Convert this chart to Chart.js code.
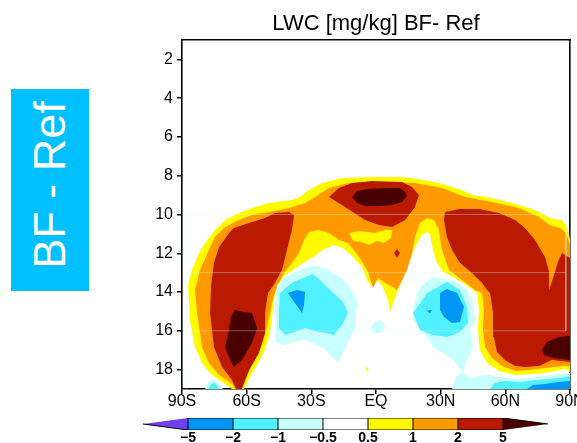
<!DOCTYPE html>
<html>
<head>
<meta charset="utf-8">
<script src="https://cdn.jsdelivr.net/npm/chart.js@4.4.1/dist/chart.umd.min.js"></script>
<style>
html, body { margin: 0; padding: 0; background: #fff; width: 577px; height: 443px; overflow: hidden; }
#tag { position: absolute; left: 11px; top: 89px; width: 78px; height: 202px; background: #00c0ff;
       display: flex; align-items: center; justify-content: center; }
#tag span { color: #fff; font: 45px 'Liberation Sans', Arial, sans-serif; white-space: nowrap;
            transform: rotate(-90deg) translateX(5px); }
#main { position: absolute; left: 0; top: 0; }
#bar { position: absolute; left: 0; top: 405px; }
</style>
</head>
<body>
<div id="tag"><span>BF - Ref</span></div>
<canvas id="main" width="577" height="415"></canvas>
<canvas id="bar" width="577" height="38"></canvas>
<script>
// axes
const latTicks = [-90, -60, -30, 0, 30, 60, 90];
const latLabels = ['90S', '60S', '30S', 'EQ', '30N', '60N', '90N'];
const levTicks = [2, 4, 6, 8, 10, 12, 14, 16, 18];

// colour bar: 9 classes, 8 edges
const cbLabels = ['\u22125', '\u22122', '\u22121', '\u22120.5', '0.5', '1', '2', '5'];
const cbColors = ['#7040f0', '#0096f5', '#50f0ff', '#c8ffff', '#ffffff', '#fffa00', '#ff9900', '#b91a00', '#4b0000'];

// contour outlines, [lat, level]
const ge05Arch = [[-66.8,19.0],[-68.2,18.89],[-72.8,18.53],[-77.0,18.17],[-80.7,17.66],[-84.0,16.83],[-86.3,15.44],
  [-87.2,13.63],[-85.4,12.86],[-82.1,11.98],[-79.3,11.47],[-74.7,10.80],[-70.0,10.28],[-63.6,9.92],[-57.5,9.66],
  [-49.6,9.41],[-39.0,9.25],[-35.3,9.10],[-31.1,8.74],[-25.1,8.37],[-15.8,8.12],[-3.2,8.07],[11.1,8.07],[16.7,8.12],
  [29.2,8.37],[39.9,8.74],[44.5,8.99],[53.8,9.15],[63.1,9.41],[71.0,9.66],[77.0,9.92],[80.3,10.18],[86.3,10.28],
  [89.1,10.70],[90,11.31],[90,18.12],[87.7,17.97],[78.4,18.17],[72.4,18.22],[64.5,18.28],[57.1,18.07],[51.5,17.66],
  [48.2,16.99],[47.3,15.96],[47.8,14.92],[46.9,14.05],[45.0,13.89],[40.4,13.53],[35.7,13.22],[31.1,12.96],[28.3,12.50],
  [26.4,11.83],[25.1,11.06],[23.7,10.90],[21.3,11.06],[18.1,11.68],[15.8,12.35],[12.1,13.38],[9.7,14.05],[7.9,14.56],
  [6.5,15.03],[5.6,14.41],[3.2,13.74],[0.5,13.38],[-1.9,13.74],[-4.2,13.38],[-6.5,12.71],[-10.7,12.19],[-15.3,11.73],
  [-19.9,11.57],[-24.6,11.83],[-29.2,12.19],[-33.9,12.50],[-38.5,12.86],[-43.1,13.22],[-45.9,13.74],[-47.3,14.41],
  [-48.2,15.18],[-49.2,16.11],[-51.5,16.99],[-54.7,17.66],[-57.5,18.17],[-59.8,18.69],[-61.2,19.0]];
const ge1Band = [[-65.4,19.0],[-66.8,18.74],[-72.8,18.28],[-77.5,17.66],[-80.7,16.83],[-83.0,15.08],[-84.0,13.89],
  [-81.6,12.86],[-77.5,11.83],[-74.7,11.16],[-70.0,10.64],[-63.6,10.28],[-57.5,10.02],[-49.6,9.87],[-40.4,9.66],
  [-32.9,9.41],[-28.3,9.10],[-21.8,8.63],[-12.5,8.37],[2.8,8.32],[18.1,8.37],[30.6,8.63],[41.3,9.10],[53.8,9.35],
  [66.3,9.66],[75.6,10.13],[80.3,10.54],[85.4,10.70],[88.1,10.95],[90,11.57],[90,17.81],[87.7,17.81],[78.4,17.92],
  [71.0,18.02],[64.5,18.07],[58.5,17.81],[53.8,17.40],[50.6,16.83],[49.6,15.96],[50.1,14.92],[49.2,14.05],[45.9,13.89],
  [39.9,13.38],[33.9,12.86],[30.6,11.83],[29.2,10.80],[26.9,10.28],[23.7,10.18],[20.4,10.44],[18.1,11.16],[16.7,11.98],
  [14.4,12.86],[12.1,13.38],[9.7,13.89],[7.9,13.74],[4.2,13.53],[0.9,13.27],[-1.4,13.79],[-3.7,12.96],[-7.4,12.24],
  [-11.1,11.73],[-13.0,11.47],[-17.2,11.31],[-21.8,10.95],[-26.4,10.80],[-31.1,10.90],[-33.4,11.31],[-35.7,11.98],
  [-39.0,12.50],[-42.7,13.02],[-45.0,13.53],[-47.3,14.15],[-49.2,15.08],[-51.0,15.96],[-52.9,16.73],[-56.1,17.50],
  [-59.4,18.17],[-62.6,19.0]];
const ge05Under = [[-12.5,10.95],[-7.4,10.85],[-0.5,10.95],[4.2,10.80],[7.4,10.80],[7.0,11.21],[3.7,11.47],
  [0.5,11.37],[-3.2,11.57],[-6.9,11.42],[-10.7,11.37]];
const ge05Dot = [[-4.2,17.86],[-3.2,17.97],[-4.2,18.07],[-5.1,17.97]];
const ge2West = [[-64.9,19.0],[-66.8,18.53],[-71.4,17.86],[-75.2,16.83],[-77.0,15.08],[-76.5,13.63],[-75.2,12.50],
  [-72.8,11.68],[-68.2,10.95],[-65.9,10.70],[-58.9,10.44],[-51.5,10.18],[-46.9,9.92],[-40.4,9.87],[-38.0,10.02],
  [-39.0,10.80],[-41.3,11.83],[-43.6,12.86],[-46.9,13.53],[-50.1,14.05],[-51.5,15.08],[-51.5,16.11],[-54.3,17.14],
  [-58.9,18.02],[-62.2,19.0]];
const ge2Top = [[-21.8,9.10],[-17.2,8.63],[-11.1,8.37],[-1.9,8.27],[12.1,8.32],[16.7,8.58],[19.9,8.99],[18.1,9.61],
  [13.5,10.28],[7.4,10.64],[1.4,10.54],[-5.1,10.28],[-14.4,9.61]];
const ge2Dot = [[9.7,11.78],[11.1,11.98],[9.7,12.24],[8.4,11.98]];
const ge2East = [[32.0,9.87],[38.5,9.72],[47.8,9.72],[57.1,9.92],[64.5,10.28],[69.1,10.70],[73.8,11.31],[78.4,12.19],
  [80.3,12.96],[80.3,13.89],[82.6,13.12],[84.4,12.45],[86.3,11.98],[90,12.24],[90,17.61],[81.6,17.50],[75.6,17.81],
  [69.1,17.86],[64.5,17.81],[59.8,17.50],[56.1,17.09],[54.7,16.32],[54.3,15.08],[52.9,14.05],[51.5,13.89],[49.2,13.53],
  [44.5,13.02],[39.0,12.50],[35.3,11.83],[32.9,11.16],[31.5,10.28]];
const ge5West = [[-65.4,14.92],[-61.2,15.03],[-57.5,15.08],[-55.2,15.85],[-57.5,16.63],[-62.2,17.50],[-65.9,17.86],
  [-69.1,17.14],[-70.0,16.83],[-68.2,15.96],[-67.3,15.28]];
const ge5Top = [[-11.1,9.10],[-8.8,8.79],[-3.7,8.68],[4.2,8.63],[11.1,8.63],[13.5,8.84],[14.4,9.05],[12.1,9.35],
  [7.4,9.51],[1.9,9.56],[-5.1,9.56],[-8.8,9.41]];
const ge5East = [[77.0,16.99],[79.3,16.57],[84.9,16.32],[90,16.27],[90,17.50],[82.6,17.40],[77.9,17.24]];
const le05West = [[-45.9,13.63],[-42.2,13.22],[-37.6,12.96],[-32.0,12.71],[-26.9,12.65],[-22.3,12.86],[-17.6,13.17],
  [-13.5,13.53],[-10.7,14.05],[-8.4,14.56],[-9.7,15.08],[-9.7,15.85],[-12.5,16.47],[-15.3,17.14],[-17.6,17.61],
  [-20.4,17.35],[-23.7,16.94],[-28.3,16.68],[-32.9,16.47],[-37.6,16.57],[-43.1,16.73],[-46.4,16.57],[-46.9,15.44],
  [-46.9,14.41]];
const le05East = [[17.2,14.77],[20.4,13.74],[26.4,13.22],[35.7,13.38],[42.2,13.89],[45.0,14.56],[45.9,15.44],
  [43.6,15.96],[45.0,16.83],[42.2,17.50],[40.4,18.17],[35.7,17.50],[31.1,17.14],[26.4,16.83],[23.7,16.32],
  [20.4,15.96],[17.2,15.44]];
const le05Eq = [[-2.8,15.85],[-0.5,15.54],[2.3,15.44],[4.2,15.75],[2.3,16.11],[-1.4,16.11]];
const le05SE = [[35.3,19.0],[37.1,18.38],[39.9,18.12],[43.6,18.43],[48.2,18.33],[52.9,18.28],[57.5,18.38],[64.5,18.48],
  [71.4,18.43],[78.4,18.33],[85.4,18.22],[90,18.17],[90,19.0]];
const le05SW = [[-79.3,19.0],[-77.5,18.59],[-75.2,18.48],[-72.4,18.79],[-71.0,19.0]];
const le1West = [[-44.5,14.05],[-38.5,13.48],[-33.9,13.27],[-29.2,13.07],[-25.1,13.48],[-21.3,13.89],[-15.3,14.51],
  [-13.0,15.08],[-15.8,15.70],[-19.5,16.21],[-23.2,16.11],[-28.3,16.01],[-32.9,15.85],[-37.6,16.06],[-42.2,16.21],
  [-45.0,15.85],[-45.0,14.92]];
const le1East = [[17.2,15.08],[23.7,14.05],[32.9,13.48],[39.0,13.89],[42.2,14.77],[42.7,15.59],[39.0,16.06],
  [32.9,16.32],[26.4,16.21],[20.4,15.96]];
const le1SE = [[52.9,19.0],[55.2,18.69],[59.8,18.59],[66.8,18.64],[73.8,18.53],[80.7,18.48],[87.7,18.38],[90,18.33],[90,19.0]];
const le1SW = [[-77.9,19.0],[-76.5,18.74],[-74.7,18.69],[-72.8,19.0]];
const le2West = [[-40.8,14.05],[-36.6,13.89],[-32.9,14.00],[-33.4,14.67],[-34.3,15.08],[-37.6,14.56]];
const le2East = [[29.7,14.05],[32.9,13.84],[37.6,14.05],[40.8,14.77],[39.0,15.54],[35.3,15.59],[31.5,15.28],[29.7,14.92]];
const le2Speck = [[23.2,14.97],[26.0,14.92],[25.1,15.08]];
const le2SE = [[70.0,19.0],[72.8,18.79],[78.4,18.74],[84.4,18.64],[90,18.59],[90,19.0]];

// faint box outlines that show through the shading in the original
const seams = [
  [[-88.1, 19.0], [-88.1, 10.0], [88.1, 10.0], [88.1, 16.0]],
  [[-88.1, 13.0], [88.1, 13.0]],
  [[-88.1, 16.0], [88.1, 16.0]]
];

// painter's order, colour class index into cbColors
const layers = [
  [ge05Arch, 5], [ge1Band, 6], [ge05Under, 5], [ge2West, 7], [ge2Top, 7], [ge2Dot, 7], [ge2East, 7],
  [ge5West, 8], [ge5Top, 8], [ge5East, 8],
  [le05West, 3], [le05East, 3], [le05Eq, 3], [le05SE, 3], [le05SW, 3],
  [le1West, 2], [le1East, 2], [le1SE, 2], [le1SW, 2],
  [le2West, 1], [le2East, 1], [le2Speck, 1], [le2SE, 1],
  [ge05Dot, 5]
];

const font = 'Liberation Sans, Arial, sans-serif';
const toXY = poly => poly.map(p => ({x: p[0], y: p[1]}));

const frame = {color: '#000', width: 1.6};

const shaded = layers.map(([poly, c], i) => ({
  data: toXY(poly),
  showLine: true,
  fill: 'shape',
  backgroundColor: cbColors[c],
  borderWidth: 0,
  pointRadius: 0,
  pointHoverRadius: 0,
  tension: 0,
  order: -i
}));
const seamSets = seams.map((s, i) => ({
  data: toXY(s),
  showLine: true,
  fill: false,
  borderColor: 'rgba(210,255,255,0.35)',
  borderWidth: 1,
  pointRadius: 0,
  tension: 0,
  order: -100 - i
}));

new Chart(document.getElementById('main'), {
  type: 'scatter',
  data: {datasets: shaded.concat(seamSets)},
  options: {
    responsive: false,
    animation: false,
    events: [],
    layout: {padding: {left: 0, right: 7, top: 0, bottom: 0}},
    plugins: {
      legend: {display: false},
      tooltip: {enabled: false},
      title: {
        display: true,
        fullSize: false,
        text: 'LWC [mg/kg] BF- Ref',
        color: '#000',
        font: {family: font, size: 22, weight: 'normal'},
        padding: {top: 11, bottom: 2.6}
      }
    },
    scales: {
      x: {
        type: 'linear', position: 'bottom', min: -90, max: 90,
        afterBuildTicks: s => { s.ticks = latTicks.map(v => ({value: v})); },
        afterFit: s => { s.height = 26; s.paddingLeft = 0; s.paddingRight = 0; },
        ticks: {
          color: '#000', padding: -2, maxRotation: 0, autoSkip: false,
          font: {family: font, size: 16},
          callback: v => latLabels[latTicks.indexOf(v)]
        },
        grid: {drawOnChartArea: false, color: '#000', lineWidth: 1.5, tickLength: 5},
        border: frame
      },
      y: {
        type: 'linear', position: 'left', min: 1, max: 19, reverse: true,
        afterBuildTicks: s => { s.ticks = levTicks.map(v => ({value: v})); },
        afterFit: s => { s.width = 182; s.paddingTop = 0; s.paddingBottom = 0; },
        ticks: {color: '#000', padding: 4, font: {family: font, size: 16}},
        grid: {drawOnChartArea: false, color: '#000', lineWidth: 1.5, tickLength: 5},
        border: frame
      },
      xTop: {
        type: 'linear', position: 'top', min: -90, max: 90,
        ticks: {display: false}, grid: {display: false, drawTicks: false},
        afterFit: s => { s.height = 0; },
        border: frame
      },
      yRight: {
        type: 'linear', position: 'right', min: 1, max: 19, reverse: true,
        ticks: {display: false}, grid: {display: false, drawTicks: false},
        afterFit: s => { s.width = 0; },
        border: frame
      }
    }
  }
});

// colour bar: boxes between edges 0..7, triangles beyond
const cbEdges = cbLabels.map((_, i) => i);
const cbShapes = cbColors.map((c, i) => {
  if (i === 0) return [[-1, 0.5], [0, 0], [0, 1]];
  if (i === cbColors.length - 1) return [[i, 0.5], [i - 1, 1], [i - 1, 0]];
  return [[i - 1, 0], [i, 0], [i, 1], [i - 1, 1]];
});

new Chart(document.getElementById('bar'), {
  type: 'scatter',
  data: {
    datasets: cbShapes.map((s, i) => ({
      data: toXY(s),
      showLine: true,
      fill: 'shape',
      backgroundColor: cbColors[i],
      borderColor: '#000',
      borderWidth: 1,
      pointRadius: 0,
      tension: 0
    }))
  },
  options: {
    responsive: false,
    animation: false,
    events: [],
    layout: {padding: {left: 143, right: 29, top: 13, bottom: 0}},
    plugins: {legend: {display: false}, tooltip: {enabled: false}},
    scales: {
      x: {
        type: 'linear', min: -1, max: 8,
        afterBuildTicks: s => { s.ticks = cbEdges.map(v => ({value: v})); },
        afterFit: s => { s.height = 13; s.paddingLeft = 0; s.paddingRight = 0; },
        ticks: {
          color: '#000', padding: 0, maxRotation: 0, autoSkip: false,
          font: {family: font, size: 14, weight: 'bold'},
          callback: v => cbLabels[v]
        },
        grid: {display: false, drawTicks: false},
        border: {display: false}
      },
      y: {type: 'linear', min: 0, max: 1, display: false}
    }
  }
});
</script>
</body>
</html>
